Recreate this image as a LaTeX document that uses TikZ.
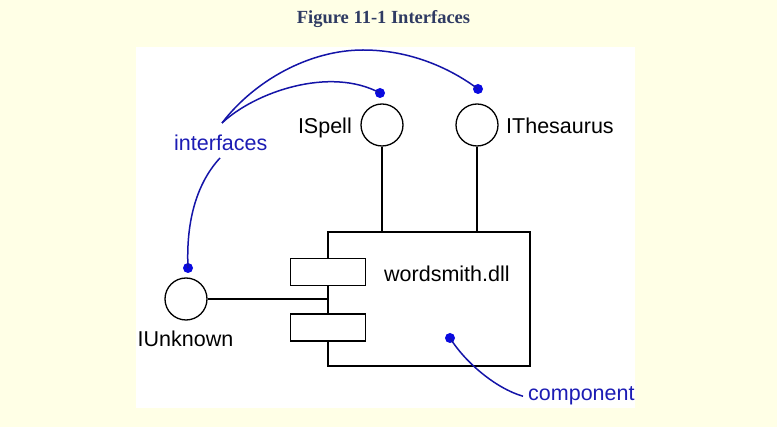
\documentclass[tikz,border=0pt]{standalone}
\usepackage{fontspec}
\setmainfont{Liberation Sans}
\newfontfamily\titlefont{Liberation Serif}
\definecolor{bgcream}{HTML}{FFFFE6}
\definecolor{titleblue}{HTML}{2F3B63}
\definecolor{noteblue}{HTML}{1C1CB4}
\definecolor{notecurve}{HTML}{1414A8}
\definecolor{dotblue}{HTML}{0A0AE0}
\begin{document}
\begin{tikzpicture}[x=1pt,y=-1pt,
  lbl/.style={font=\fontsize{21.5}{24}\selectfont, inner sep=0pt, text=black},
  bluelbl/.style={lbl, text=noteblue},
  iface/.style={circle, draw=black, line width=1.3pt, minimum size=42pt, inner sep=0pt, fill=white},
  port/.style={rectangle, draw=black, line width=1.3pt, minimum width=75pt, minimum height=27pt, fill=white, inner sep=0pt},
  compbox/.style={rectangle, draw=black, line width=1.3pt, minimum width=202pt, minimum height=134pt, inner sep=0pt, fill=white},
  wire/.style={draw=black, line width=1.3pt},
  note/.style={draw=notecurve, line width=1.5pt},
  bluedot/.style={circle, fill=dotblue, minimum size=10pt, inner sep=0pt}]
\useasboundingbox (0,0) rectangle (777,427);
\fill[bgcream] (0,0) rectangle (777,427);
\fill[white] (136,47) rectangle (635,408);
\node[font=\titlefont\bfseries\fontsize{18.5}{21}\selectfont, text=titleblue, anchor=base, inner sep=0pt] (title) at (383.5,24) {Figure 11-1 Interfaces};

% component
\node[compbox] (box) at (429,299) {};
\node[port] (p1) at (328.2,272) {};
\node[port] (p2) at (328.2,327.5) {};
\node[lbl, anchor=base west] (dll) at (384,281.7) {wordsmith.dll};

% interfaces
\node[iface] (isp) at (382,125) {};
\node[iface] (ith) at (477,125) {};
\node[iface] (iun) at (186,299) {};
\node[lbl, anchor=base east] (lsp) at (352,133.5) {ISpell};
\node[lbl, anchor=base west] (lth) at (506,133.5) {IThesaurus};
\node[lbl, anchor=base west] (lun) at (137.5,347) {IUnknown};

\draw[wire] (isp.south) -- (isp.south |- box.north);
\draw[wire] (ith.south) -- (ith.south |- box.north);
\draw[wire] (iun.east) -- (iun.east -| box.west);

% notes
\node[bluelbl, anchor=base west] (ifl) at (174,151) {interfaces};
\node[bluelbl, inner xsep=5pt, anchor=base west] (cmp) at (523,401) {component};
\node[bluedot] (dsp) at (380,93) {};
\node[bluedot] (dth) at (478,89) {};
\node[bluedot] (dun) at (188,268) {};
\node[bluedot] (dcm) at (450,338) {};
\coordinate (ift) at (222,123);
\coordinate (ifb) at (220,158);

\draw[note] (ift) .. controls (255,92) and (330,66) .. (dsp.center);
\draw[note] (ift) .. controls (255,80) and (310,50) .. (363,50) .. controls (410,50) and (450,68) .. (dth.center);
\draw[note] (ifb) .. controls (195,185) and (186,225) .. (dun.center);
\draw[note] (dcm.center) .. controls (465,362) and (495,388) .. (cmp.west);
\end{tikzpicture}
\end{document}
